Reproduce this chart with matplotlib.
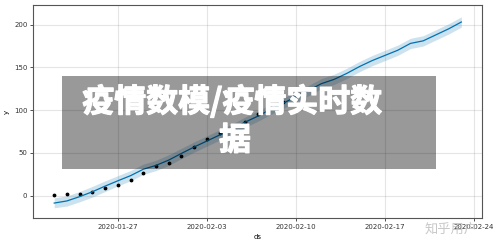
import matplotlib
matplotlib.use("Agg")
import matplotlib.pyplot as plt
import matplotlib.dates as mdates
import matplotlib.patheffects as pe
import numpy as np
import pandas as pd
from matplotlib.patches import Rectangle

# observed data
obs_dates = pd.date_range("2020-01-22", "2020-02-09", freq="D")
obs_y = [0.8, 1.6, 1.6, 4.7, 8.6, 12.5, 18.3, 27, 34.7, 38.6, 46.7, 56.5, 66, 73,
         80, 86, 96, 104, 110]

# forecast
fc_dates = pd.date_range("2020-01-22", "2020-02-23", freq="D")
yhat = [-8.5, -6, -1, 4.7, 11.3, 17.5, 23.5, 31, 35.5, 41.7, 49.5, 57, 64, 71,
        78, 86, 93, 101, 108, 116, 123, 131, 136, 143, 151, 158, 164, 170,
        178, 181, 188, 195, 203]
yhat_lower = [-14, -12, -7, -1.5, 5, 11.5, 17.5, 25, 29.5, 35.5, 43.5, 51, 58, 65,
              72, 80, 87, 95, 102, 110, 117, 125, 130, 137, 145, 152, 158, 164,
              172, 175, 182, 189, 197]
yhat_upper = [-2.5, 0, 5, 11, 17.5, 23.5, 29.5, 37, 41.5, 48, 55.5, 63, 70, 77,
              84, 92, 99, 107, 114, 122, 129, 137, 142, 149, 157, 164, 170, 176,
              184, 187, 194, 201, 209]

xticks = pd.to_datetime(["2020-01-27", "2020-02-03", "2020-02-10", "2020-02-17", "2020-02-24"])
yticks = [0, 50, 100, 150, 200]

plt.rcParams['font.family'] = ['DejaVu Sans']
fig = plt.figure(figsize=(5, 2.45), dpi=100, facecolor="white")
ax = fig.add_axes([0.066, 0.110, 0.898, 0.870])

ax.plot(obs_dates, obs_y, "k.", markersize=3.5)
ax.plot(fc_dates, yhat, ls="-", c="#0072B2", lw=0.9)
ax.fill_between(fc_dates, yhat_lower, yhat_upper, color="#0072B2", alpha=0.2, lw=0)
ax.grid(True, which="major", c="gray", ls="-", lw=0.8, alpha=0.2)

ax.set_xlim(pd.Timestamp("2020-01-20 08:00"), pd.Timestamp("2020-02-24 15:00"))
ax.set_ylim(-26, 223)
ax.set_xticks(xticks)
ax.xaxis.set_major_formatter(mdates.DateFormatter("%Y-%m-%d"))
ax.set_yticks(yticks)
ax.tick_params(labelsize=5, length=2, width=0.6, pad=2, colors="#333333")
for s in ax.spines.values():
    s.set_linewidth(0.8)
    s.set_color("#555555")
ax.set_xlabel("ds", fontsize=5, labelpad=3)
ax.set_ylabel("y", fontsize=5, labelpad=3)

# overlay box with title
fig.patches.append(Rectangle((62 / 500, 1 - 168.7 / 245), (435.7 - 62) / 500, (168.7 - 76.3) / 245,
                             transform=fig.transFigure, facecolor="black", alpha=0.4,
                             edgecolor="none", zorder=5))
bold = [pe.withStroke(linewidth=0.9, foreground="white")]
fig.text(232.5 / 500, 1 - 102 / 245, "疫情数模/疫情实时数", color="white",
         fontsize=23, fontweight="heavy", ha="center", va="center",
         family=["Noto Sans CJK SC", "DejaVu Sans"], zorder=6, path_effects=bold)
fig.text(235 / 500, 1 - 141 / 245, "据", color="white",
         fontsize=23, fontweight="heavy", ha="center", va="center",
         family=["Noto Sans CJK SC", "DejaVu Sans"], zorder=6, path_effects=bold)

# watermark
fig.text(451 / 500, 1 - 229 / 245, "知乎用户", color="#bbbbbb", alpha=0.8,
         fontsize=9.5, ha="center", va="center",
         family=["Noto Sans CJK SC", "DejaVu Sans"], zorder=6)

fig.savefig("out.png", dpi=100, facecolor="white")
